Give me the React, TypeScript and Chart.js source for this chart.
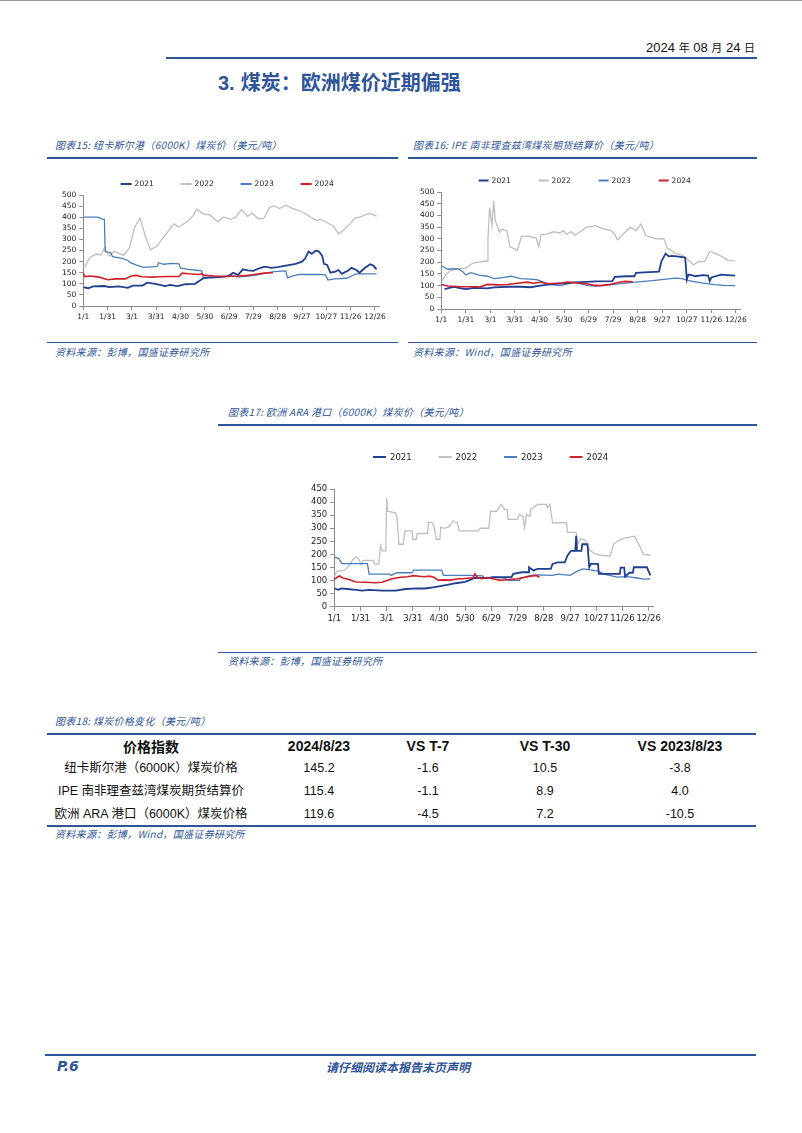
import React, { useEffect, useRef } from 'react';
import { Chart, registerables } from 'chart.js';

Chart.register(...registerables);

// ---------- shared axis / series meta ----------
const SERIES_NAMES = ['2021', '2022', '2023', '2024'];
const SERIES_COLORS = ['#1F3F8F', '#BFBFBF', '#4A7EBB', '#D0202A'];
const SERIES_WIDTHS = [1.8, 1.3, 1.3, 1.6];
const SERIES_ORDER = [1, 3, 2, 0];
const X_TICK_DAYS = [0, 30, 60, 90, 120, 150, 180, 210, 240, 270, 300, 330, 360];
const X_TICK_LABELS = ['1/1', '1/31', '3/1', '3/31', '4/30', '5/30', '6/29', '7/29', '8/28', '9/27', '10/27', '11/26', '12/26'];

// ---------- 图表15 纽卡斯尔港 [day, price] ----------
const NEWC_2021 = [[0,85],[6,80],[12,88],[26,90],[32,85],[44,88],[55,82],[61,92],[73,92],[79,105],[89,100],[101,90],[107,95],[116,90],[126,98],[138,100],[142,110],[148,125],[154,128],[166,130],[179,135],[185,150],[191,140],[197,165],[203,160],[210,158],[217,170],[224,177],[232,172],[240,175],[250,182],[262,190],[270,200],[274,215],[278,245],[282,235],[287,250],[291,245],[295,225],[297,190],[301,185],[305,150],[311,155],[315,162],[319,145],[327,160],[331,172],[337,162],[341,150],[347,170],[354,188],[358,182],[362,165]];
const NEWC_2022 = [[2,175],[8,219],[16,234],[22,230],[26,263],[32,226],[38,245],[50,229],[57,263],[63,352],[70,396],[77,310],[83,253],[91,270],[97,300],[112,370],[118,356],[130,385],[135,405],[140,436],[148,415],[156,410],[166,379],[173,401],[182,390],[188,400],[195,433],[203,404],[208,419],[216,393],[223,395],[230,445],[236,451],[242,439],[250,454],[258,440],[266,430],[276,411],[287,386],[293,390],[301,375],[309,359],[315,325],[321,340],[329,370],[335,396],[341,400],[352,416],[356,415],[362,405]];
const NEWC_2023 = [[0,400],[18,400],[24,390],[26,390],[27,245],[34,240],[36,222],[48,215],[55,205],[58,195],[65,185],[73,175],[81,175],[91,178],[93,195],[99,188],[110,192],[118,190],[120,170],[130,165],[142,160],[146,158],[148,130],[154,128],[162,128],[170,130],[183,138],[191,130],[203,135],[215,140],[228,150],[236,155],[250,158],[252,127],[258,135],[266,142],[276,142],[293,142],[299,140],[302,117],[310,122],[325,125],[331,135],[337,145],[362,145]];
const NEWC_2024 = [[0,148],[2,132],[8,135],[20,130],[30,118],[40,122],[52,122],[59,135],[65,138],[73,132],[85,130],[93,132],[105,133],[118,133],[122,148],[130,145],[142,142],[146,145],[150,138],[162,135],[175,133],[191,135],[203,138],[211,142],[223,148],[234,150]];

// ---------- 图表16 IPE 理查兹湾 ----------
const IPE_2021 = [[4,85],[10,90],[16,95],[24,88],[30,85],[40,90],[56,88],[65,92],[81,95],[97,95],[109,93],[121,100],[133,105],[149,110],[169,115],[190,118],[209,119],[212,137],[226,140],[236,140],[238,154],[254,158],[266,160],[269,204],[274,237],[278,225],[282,227],[290,224],[298,220],[300,126],[302,147],[306,145],[310,140],[320,145],[326,143],[328,119],[330,135],[342,147],[350,145],[359,143]];
const IPE_2022 = [[1,120],[6,150],[12,165],[20,172],[30,175],[34,185],[38,195],[46,200],[54,205],[56,204],[57,300],[59,433],[62,356],[64,461],[66,377],[71,329],[73,340],[80,335],[84,266],[90,256],[93,250],[98,310],[108,310],[116,303],[119,266],[122,317],[129,320],[137,330],[145,325],[149,335],[153,320],[159,330],[163,315],[170,330],[177,349],[189,356],[196,345],[207,335],[212,320],[215,296],[225,329],[231,349],[238,335],[244,363],[250,314],[262,300],[272,301],[276,260],[280,253],[286,237],[294,230],[302,209],[308,188],[314,202],[322,205],[328,246],[334,239],[342,226],[350,209],[359,205]];
const IPE_2023 = [[0,185],[8,170],[20,172],[26,160],[30,145],[36,155],[46,145],[56,140],[65,130],[77,135],[85,140],[97,130],[109,128],[117,125],[125,115],[133,105],[145,100],[157,110],[161,115],[169,108],[179,100],[189,98],[205,103],[220,108],[234,114],[258,121],[286,132],[294,130],[302,121],[318,112],[334,104],[345,101],[359,100]];
const IPE_2024 = [[0,105],[8,98],[24,95],[48,95],[56,105],[69,103],[81,105],[93,110],[105,115],[113,110],[121,115],[129,108],[141,110],[149,110],[153,115],[165,112],[177,108],[185,102],[194,100],[205,104],[217,114],[225,118],[234,116]];

// ---------- 图表17 欧洲 ARA 港口 ----------
const ARA_2021 = [[0,70],[5,65],[8,70],[15,68],[25,65],[32,62],[40,65],[55,62],[70,62],[82,68],[95,70],[104,70],[115,75],[131,85],[139,90],[150,95],[157,105],[160,110],[180,110],[181,113],[203,113],[205,126],[215,132],[222,132],[223,151],[228,139],[233,145],[248,145],[250,164],[256,170],[264,170],[267,195],[271,214],[276,214],[277,271],[278,214],[283,214],[284,239],[290,239],[292,151],[294,164],[302,164],[303,126],[327,126],[328,150],[332,150],[333,115],[338,130],[342,130],[343,151],[358,151],[362,120]];
const ARA_2022 = [[0,115],[3,135],[12,140],[18,160],[21,180],[25,190],[28,183],[31,160],[33,177],[45,177],[46,164],[51,162],[53,233],[55,214],[59,214],[60,416],[61,365],[70,359],[72,340],[74,239],[79,239],[81,290],[89,290],[90,258],[94,258],[95,280],[107,280],[108,324],[112,321],[114,310],[117,258],[121,258],[122,304],[126,300],[131,305],[136,328],[141,321],[143,290],[165,290],[167,300],[177,300],[179,365],[186,365],[191,391],[195,372],[198,372],[199,334],[210,334],[212,353],[216,345],[218,304],[220,353],[224,345],[225,372],[233,391],[243,391],[244,378],[247,391],[250,321],[266,321],[267,284],[277,284],[279,240],[282,260],[287,255],[293,215],[300,200],[309,195],[316,195],[320,240],[327,255],[332,262],[344,270],[350,230],[354,200],[362,197]];
const ARA_2023 = [[0,190],[5,185],[9,165],[38,165],[40,125],[63,125],[65,120],[72,130],[89,130],[91,140],[123,140],[125,120],[153,120],[170,118],[172,110],[180,113],[195,110],[199,101],[212,101],[214,110],[225,120],[233,122],[250,120],[256,125],[270,120],[279,137],[285,145],[295,140],[302,136],[309,125],[324,113],[335,115],[347,110],[355,106],[362,107]];
const ARA_2024 = [[0,105],[3,112],[6,118],[10,110],[16,105],[25,95],[35,94],[47,92],[55,94],[66,107],[76,113],[84,115],[91,119],[97,117],[103,115],[109,117],[114,113],[119,102],[126,103],[133,102],[142,107],[148,107],[154,110],[159,110],[161,126],[164,112],[169,107],[175,112],[180,108],[191,101],[200,104],[210,107],[217,112],[223,116],[231,120],[235,113]];

// ---------- 图表18 table ----------
const TABLE_HEAD = ['价格指数', '2024/8/23', 'VS T-7', 'VS T-30', 'VS 2023/8/23'];
const TABLE_NAMES = ['纽卡斯尔港（6000K）煤炭价格', 'IPE 南非理查兹湾煤炭期货结算价', '欧洲 ARA 港口（6000K）煤炭价格'];
const TABLE_LATEST = ['145.2', '115.4', '119.6'];
const TABLE_T7 = ['-1.6', '-1.1', '-4.5'];
const TABLE_T30 = ['10.5', '8.9', '7.2'];
const TABLE_YOY = ['-3.8', '4.0', '-10.5'];

const BLUE = '#2E5597';
const CJK = '"Noto Sans CJK SC", sans-serif';

const seriesLegend = {
  id: 'seriesLegend',
  afterDraw(chart: any, _args: any, opts: any) {
    const { ctx, chartArea } = chart;
    const items = chart.data.datasets;
    ctx.save();
    ctx.font = `${opts.size}px "DejaVu Sans"`;
    ctx.textBaseline = 'middle';
    ctx.textAlign = 'left';
    const lastW = opts.line + opts.gap + ctx.measureText(items[items.length - 1].label).width;
    const total = opts.spacing * (items.length - 1) + lastW;
    const startX = (chartArea.left + chartArea.right) / 2 - total / 2 + opts.shift;
    const y = chartArea.top - opts.offset;
    items.forEach((ds: any, i: number) => {
      const x = startX + i * opts.spacing;
      ctx.strokeStyle = ds.borderColor;
      ctx.lineWidth = 2;
      ctx.beginPath();
      ctx.moveTo(x, y);
      ctx.lineTo(x + opts.line, y);
      ctx.stroke();
      ctx.fillStyle = '#222';
      ctx.fillText(ds.label, x + opts.line + opts.gap, y + 0.5);
    });
    ctx.restore();
  },
};

type ChartProps = {
  series: number[][][];
  yMax: number;
  left: number;
  top: number;
  width: number;
  height: number;
  pad: { left: number; right: number; top: number; bottom: number };
  font: number;
  legend: { offset: number; spacing: number; line: number; gap: number; shift: number };
};

function CoalChart(p: ChartProps) {
  const ref = useRef<HTMLCanvasElement>(null);
  useEffect(() => {
    if (!ref.current) return;
    const tickFont = { family: '"DejaVu Sans"', size: p.font };
    const chart = new Chart(ref.current, {
      type: 'line',
      data: {
        datasets: p.series.map((pts, i) => ({
          label: SERIES_NAMES[i],
          data: pts.map(([x, y]) => ({ x, y })),
          borderColor: SERIES_COLORS[i],
          backgroundColor: SERIES_COLORS[i],
          borderWidth: SERIES_WIDTHS[i],
          pointRadius: 0,
          tension: 0,
          order: SERIES_ORDER[i],
        })),
      },
      options: {
        responsive: false,
        animation: false,
        events: [],
        layout: { padding: p.pad },
        plugins: {
          legend: { display: false },
          tooltip: { enabled: false },
          seriesLegend: { ...p.legend, size: p.font },
        } as any,
        scales: {
          x: {
            type: 'linear',
            min: 0,
            max: 365,
            afterBuildTicks: (axis: any) => {
              axis.ticks = X_TICK_DAYS.map((v) => ({ value: v }));
            },
            ticks: {
              autoSkip: false,
              maxRotation: 0,
              padding: 3,
              color: '#222',
              font: tickFont,
              callback: (_v: any, i: number) => X_TICK_LABELS[i],
            },
            grid: { drawOnChartArea: false, drawTicks: true, tickLength: 4, color: '#8C8C8C' },
            border: { color: '#8C8C8C' },
          },
          y: {
            min: 0,
            max: p.yMax,
            ticks: { stepSize: 50, autoSkip: false, padding: 3, color: '#222', font: tickFont },
            grid: { drawOnChartArea: false, drawTicks: true, tickLength: 4, color: '#8C8C8C' },
            border: { color: '#8C8C8C' },
          },
        },
      } as any,
      plugins: [seriesLegend],
    });
    return () => chart.destroy();
  }, []);
  return (
    <canvas
      ref={ref}
      width={p.width}
      height={p.height}
      style={{ position: 'absolute', left: p.left, top: p.top, width: p.width, height: p.height }}
    />
  );
}

function Txt(props: { x: number; y: number; size: number; children: any; style?: any; align?: 'left' | 'center' | 'right' }) {
  const { x, y, size, align = 'left' } = props;
  const lh = Math.round(size * 1.4);
  const base: any = { position: 'absolute', top: y - lh / 2, height: lh, lineHeight: `${lh}px`, fontSize: size, whiteSpace: 'nowrap' };
  if (align === 'left') base.left = x;
  if (align === 'center') { base.left = x - 200; base.width = 400; base.textAlign = 'center'; }
  if (align === 'right') { base.right = 802 - x; base.textAlign = 'right'; }
  return <div style={{ ...base, ...props.style }}>{props.children}</div>;
}

function HLine(props: { x1: number; x2: number; y: number; h?: number; color?: string }) {
  return (
    <div style={{ position: 'absolute', left: props.x1, top: props.y, width: props.x2 - props.x1, height: props.h ?? 1, background: props.color ?? BLUE }} />
  );
}

const capStyle = { fontFamily: CJK, fontStyle: 'italic', color: BLUE, letterSpacing: '0.3px' };

export default function App() {
  const colX = [151, 319, 428, 545, 680];
  const rowY = [768, 791, 814];
  const rowFont = { fontFamily: '"Liberation Sans", "Noto Sans CJK SC", sans-serif', color: '#111' };
  return (
    <div style={{ position: 'absolute', left: 0, top: 0, width: 802, height: 1133, background: '#fff', overflow: 'hidden' }}>
      <HLine x1={0} x2={802} y={0} h={1} color="#9A9A9A" />
      {/* header */}
      <Txt x={755} y={47} size={13} align="right" style={{ fontFamily: '"Liberation Sans", sans-serif', color: '#111' }}>
        2024 <span style={{ fontFamily: CJK, fontSize: 11 }}>年</span> 08 <span style={{ fontFamily: CJK, fontSize: 11 }}>月</span> 24 <span style={{ fontFamily: CJK, fontSize: 11 }}>日</span>
      </Txt>
      <HLine x1={166} x2={757} y={57} h={2} />
      <Txt x={218} y={82} size={20} style={{ color: BLUE, fontWeight: 700 }}>
        <span style={{ fontFamily: '"Liberation Sans", sans-serif' }}>3.</span>
        <span style={{ fontFamily: CJK, marginLeft: 6 }}>煤炭：欧洲煤价近期偏强</span>
      </Txt>

      {/* chart 15 */}
      <Txt x={55} y={145} size={10} style={capStyle}>图表15:  纽卡斯尔港（6000K）煤炭价（美元/吨）</Txt>
      <HLine x1={47} x2={398} y={157} h={2} />
      <CoalChart
        series={[NEWC_2021, NEWC_2022, NEWC_2023, NEWC_2024]}
        yMax={500}
        left={50}
        top={165}
        width={348}
        height={166}
        pad={{ left: 9, right: 19, top: 30, bottom: 6 }}
        font={7.5}
        legend={{ offset: 11, spacing: 60, line: 11, gap: 3, shift: -4 }}
      />
      <HLine x1={47} x2={398} y={342} h={1} />
      <Txt x={55} y={352} size={10} style={capStyle}>资料来源：彭博，国盛证券研究所</Txt>

      {/* chart 16 */}
      <Txt x={413} y={145} size={10} style={capStyle}>图表16:  IPE 南非理查兹湾煤炭期货结算价（美元/吨）</Txt>
      <HLine x1={408} x2={757} y={157} h={2} />
      <CoalChart
        series={[IPE_2021, IPE_2022, IPE_2023, IPE_2024]}
        yMax={500}
        left={408}
        top={165}
        width={350}
        height={169}
        pad={{ left: 9, right: 18, top: 27, bottom: 6 }}
        font={7.5}
        legend={{ offset: 11.5, spacing: 60, line: 10, gap: 3, shift: -6 }}
      />
      <HLine x1={408} x2={757} y={342} h={1} />
      <Txt x={413} y={352} size={10} style={capStyle}>资料来源：Wind，国盛证券研究所</Txt>

      {/* chart 17 */}
      <Txt x={228} y={412} size={10} style={capStyle}>图表17:  欧洲 ARA 港口（6000K）煤炭价（美元/吨）</Txt>
      <HLine x1={218} x2={757} y={424} h={2} />
      <CoalChart
        series={[ARA_2021, ARA_2022, ARA_2023, ARA_2024]}
        yMax={450}
        left={300}
        top={440}
        width={380}
        height={194}
        pad={{ left: 8, right: 27, top: 49, bottom: 7 }}
        font={8.5}
        legend={{ offset: 32, spacing: 65.5, line: 13, gap: 4, shift: -3 }}
      />
      <HLine x1={218} x2={757} y={652} h={1} />
      <Txt x={228} y={661} size={10} style={capStyle}>资料来源：彭博，国盛证券研究所</Txt>

      {/* table 18 */}
      <Txt x={55} y={721} size={10} style={capStyle}>图表18:  煤炭价格变化（美元/吨）</Txt>
      <HLine x1={47} x2={756} y={733} h={2} />
      {TABLE_HEAD.map((h, i) => (
        <Txt key={h} x={colX[i]} y={746} size={14} align="center" style={{ fontFamily: i === 0 ? CJK : '"Liberation Sans", sans-serif', fontWeight: 700, color: '#111' }}>
          {h}
        </Txt>
      ))}
      {TABLE_NAMES.map((n, r) => (
        <React.Fragment key={n}>
          <Txt x={colX[0]} y={rowY[r]} size={12.5} align="center" style={rowFont}>{n}</Txt>
          <Txt x={colX[1]} y={rowY[r]} size={12.5} align="center" style={rowFont}>{TABLE_LATEST[r]}</Txt>
          <Txt x={colX[2]} y={rowY[r]} size={12.5} align="center" style={rowFont}>{TABLE_T7[r]}</Txt>
          <Txt x={colX[3]} y={rowY[r]} size={12.5} align="center" style={rowFont}>{TABLE_T30[r]}</Txt>
          <Txt x={colX[4]} y={rowY[r]} size={12.5} align="center" style={rowFont}>{TABLE_YOY[r]}</Txt>
        </React.Fragment>
      ))}
      <HLine x1={47} x2={756} y={825} h={1.5} />
      <Txt x={55} y={834} size={10} style={capStyle}>资料来源：彭博，Wind，国盛证券研究所</Txt>

      {/* footer */}
      <HLine x1={45} x2={756} y={1054} h={2} />
      <Txt x={57} y={1066} size={14} style={{ fontFamily: '"DejaVu Sans", sans-serif', fontStyle: 'italic', fontWeight: 700, color: BLUE }}>P.6</Txt>
      <Txt x={398} y={1066} size={12} align="center" style={{ fontFamily: CJK, fontStyle: 'italic', fontWeight: 700, color: BLUE }}>请仔细阅读本报告末页声明</Txt>
    </div>
  );
}
